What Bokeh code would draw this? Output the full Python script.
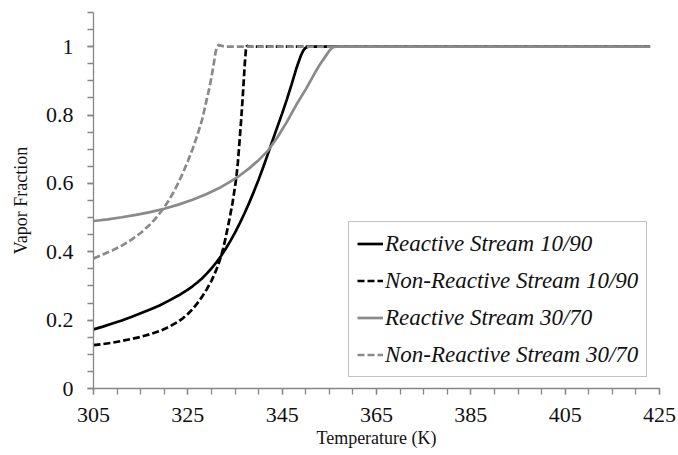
from bokeh.plotting import figure
from bokeh.models import FixedTicker, Range1d, Legend, LegendItem
from bokeh.embed import file_html
from bokeh.resources import INLINE

# Vapor fraction vs temperature for the four streams
t_r1090 = [305, 307, 309, 311, 313, 315, 317, 319, 321, 323, 325, 326, 327, 328,
           329, 330, 331, 332, 333, 334, 335, 336, 337, 338, 339, 340, 341, 342,
           343, 344, 345, 346, 347, 348, 348.5, 349, 349.5, 350, 350.5, 352, 380, 423]
v_r1090 = [0.173, 0.181, 0.190, 0.199, 0.209, 0.220, 0.231, 0.243, 0.257, 0.272,
           0.289, 0.299, 0.310, 0.322, 0.336, 0.351, 0.368, 0.387, 0.408, 0.431,
           0.456, 0.483, 0.512, 0.543, 0.576, 0.611, 0.648, 0.687, 0.727, 0.766,
           0.805, 0.846, 0.890, 0.936, 0.956, 0.975, 0.989, 0.997, 1.0, 1.0, 1.0, 1.0]

t_nr1090 = [305, 307, 309, 311, 313, 315, 317, 319, 321, 323, 324, 325, 326, 327,
            328, 329, 330, 330.5, 331, 331.5, 332, 332.5, 333, 333.5, 334, 334.5,
            335, 335.3, 335.6, 336, 336.3, 336.6, 336.9, 337.1, 337.3, 337.5, 338,
            380, 423]
v_nr1090 = [0.127, 0.130, 0.134, 0.139, 0.145, 0.151, 0.159, 0.168, 0.180, 0.196,
            0.206, 0.218, 0.232, 0.249, 0.268, 0.290, 0.315, 0.330, 0.346, 0.364,
            0.385, 0.410, 0.440, 0.473, 0.508, 0.545, 0.590, 0.620, 0.660, 0.730,
            0.785, 0.845, 0.910, 0.955, 0.990, 1.003, 1.0, 1.0, 1.0]

t_r3070 = [305, 308, 311, 314, 317, 320, 323, 326, 329, 332, 334, 336, 338, 340,
           342, 344, 346, 348, 350, 351, 352, 353, 354, 355, 355.7, 356.3, 358,
           380, 423]
v_r3070 = [0.490, 0.495, 0.501, 0.508, 0.516, 0.526, 0.538, 0.552, 0.569, 0.589,
           0.605, 0.623, 0.644, 0.668, 0.696, 0.735, 0.780, 0.830, 0.875, 0.900,
           0.925, 0.948, 0.968, 0.988, 0.998, 1.0, 1.0, 1.0, 1.0]

t_nr3070 = [305, 307, 309, 311, 313, 315, 317, 318, 319, 320, 321, 322, 323, 324,
            325, 326, 327, 328, 329, 329.5, 330, 330.5, 330.9, 331.2, 331.5, 332,
            333, 380, 423]
v_nr3070 = [0.380, 0.392, 0.404, 0.418, 0.435, 0.455, 0.480, 0.495, 0.512, 0.530,
            0.551, 0.575, 0.602, 0.632, 0.665, 0.700, 0.740, 0.785, 0.845, 0.875,
            0.910, 0.950, 0.985, 1.0, 1.005, 1.003, 1.0, 1.0, 1.0]

x_ticks = [305, 325, 345, 365, 385, 405, 425]
x_minor = list(range(305, 426, 5))
y_ticks = [0, 0.2, 0.4, 0.6, 0.8, 1.0]
y_tick_labels = ["0", "0.2", "0.4", "0.6", "0.8", "1"]
y_minor = [round(i * 0.05, 2) for i in range(23)]

series_names = ["Reactive Stream 10/90", "Non-Reactive Stream 10/90",
                "Reactive Stream 30/70", "Non-Reactive Stream 30/70"]

FONT = "Liberation Serif"
AXIS_GRAY = "#868686"
GRAY = "#8a8a8a"

p = figure(width=678, height=455, output_backend="svg", toolbar_location=None,
           x_range=Range1d(305, 425), y_range=Range1d(0, 1.1),
           min_border_left=93, min_border_right=19, min_border_top=12,
           min_border_bottom=67)
p.outline_line_color = None
p.xgrid.visible = False
p.ygrid.visible = False
p.background_fill_color = "white"
p.border_fill_color = "white"

r1 = p.line(t_r1090, v_r1090, line_color="black", line_width=2.7)
r2 = p.line(t_nr1090, v_nr1090, line_color="black", line_width=2.7, line_dash="7 3")
r3 = p.line(t_r3070, v_r3070, line_color=GRAY, line_width=2.7)
r4 = p.line(t_nr3070, v_nr3070, line_color=GRAY, line_width=2.7, line_dash="7 3")

for ax in (p.xaxis[0], p.yaxis[0]):
    ax.axis_line_color = AXIS_GRAY
    ax.axis_line_width = 1.3
    ax.major_tick_line_color = AXIS_GRAY
    ax.minor_tick_line_color = AXIS_GRAY
    ax.major_tick_line_width = 1.3
    ax.minor_tick_line_width = 1.3
    ax.major_tick_in = 0
    ax.major_tick_out = 6
    ax.minor_tick_in = 0
    ax.minor_tick_out = 6
    ax.major_label_text_font = FONT
    ax.major_label_text_font_size = "22px"
    ax.major_label_text_color = "#111111"
    ax.axis_label_text_font = FONT
    ax.axis_label_text_font_size = "18px"
    ax.axis_label_text_font_style = "normal"
    ax.axis_label_text_color = "#111111"

p.xaxis[0].ticker = FixedTicker(ticks=x_ticks, minor_ticks=x_minor)
p.yaxis[0].ticker = FixedTicker(ticks=y_ticks, minor_ticks=y_minor)
p.yaxis[0].major_label_overrides = {t: lab for t, lab in zip(y_ticks, y_tick_labels)}
p.xaxis[0].axis_label = "Temperature (K)"
p.yaxis[0].axis_label = "Vapor Fraction"
p.xaxis[0].major_label_standoff = 13
p.yaxis[0].major_label_standoff = 14
p.xaxis[0].axis_label_standoff = 3
p.yaxis[0].axis_label_standoff = 12

legend = Legend(items=[LegendItem(label=n, renderers=[r]) for n, r in
                       zip(series_names, [r1, r2, r3, r4])],
                location=(255, 11))
legend.label_text_font = FONT
legend.label_text_font_style = "italic"
legend.label_text_font_size = "23px"
legend.label_text_color = "#111111"
legend.padding = 8
legend.spacing = 10
legend.glyph_height = 27
legend.label_height = 27
legend.glyph_width = 26
legend.label_standoff = 2
legend.border_line_color = AXIS_GRAY
legend.border_line_width = 1.5
legend.background_fill_color = "white"
legend.background_fill_alpha = 1.0
legend.margin = 0
p.add_layout(legend, "center")

open("out.html", "w").write(file_html(p, INLINE))
